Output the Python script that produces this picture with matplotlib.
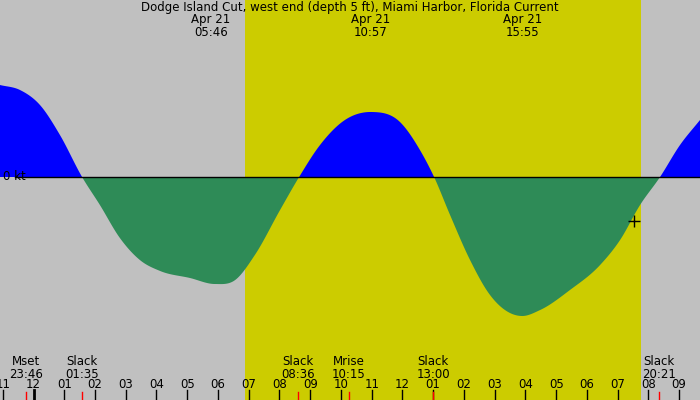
import numpy as np
import matplotlib
matplotlib.use("Agg")
import matplotlib.pyplot as plt

# hours since midnight Apr 21, current in kt
hours = [-1.09,-0.44,0.21,0.86,1.58,2.16,2.81,3.46,4.12,5.09,5.90,6.56,7.20,8.02,8.64,9.32,10.13,11.01,
         11.92,12.57,13.03,13.55,14.20,14.85,15.50,15.89,16.48,17.45,18.43,19.08,19.73,20.38,21.03,21.68]
speed = [0.92,0.87,0.72,0.42,0,-0.28,-0.61,-0.83,-0.94,-1.01,-1.07,-1.03,-0.78,-0.33,0,0.32,0.57,0.65,
         0.55,0.27,0,-0.38,-0.83,-1.18,-1.36,-1.39,-1.33,-1.13,-0.88,-0.63,-0.28,0,0.32,0.57]
day_start, day_end = 6.88, 19.76
top_labels = [("Apr 21\n05:46", 5.77), ("Apr 21\n10:57", 10.95), ("Apr 21\n15:55", 15.92)]
events = [("Mset\n23:46", -0.23), ("Slack\n01:35", 1.58), ("Slack\n08:36", 8.6),
          ("Mrise\n10:15", 10.25), ("Slack\n13:00", 13.0), ("Slack\n20:21", 20.35)]
hour_ticks = list(range(-1, 22))

def hermite(xs, ys, t):
    xs = np.asarray(xs); ys = np.asarray(ys)
    m = np.gradient(ys, xs)
    i = np.clip(np.searchsorted(xs, t) - 1, 0, len(xs) - 2)
    h = xs[i + 1] - xs[i]
    s = (t - xs[i]) / h
    h00 = 2*s**3 - 3*s**2 + 1; h10 = s**3 - 2*s**2 + s
    h01 = -2*s**3 + 3*s**2; h11 = s**3 - s**2
    return h00*ys[i] + h10*h*m[i] + h01*ys[i+1] + h11*h*m[i+1]

fig = plt.figure(figsize=(7, 4), dpi=100)
fig.patch.set_facecolor("#c0c0c0")
ax = fig.add_axes([0, 0, 1, 1])
ax.set_facecolor("#c0c0c0")
x0, x1 = -1.09, 21.68
ax.set_xlim(x0, x1); ax.set_ylim(-2.23, 1.77)
ax.axis("off")
ax.axvspan(day_start, day_end, color="#cccc00", lw=0)

t = np.linspace(x0, x1, 3000)
v = hermite(hours, speed, t)
ax.fill_between(t, 0, v, where=v >= 0, color="#0000ff", lw=0, interpolate=True)
ax.fill_between(t, 0, v, where=v <= 0, color="#2e8b57", lw=0, interpolate=True)
ax.plot([-0.6, x1], [0, 0], color="black", lw=1)

def ypx(p):
    return (177 - p) / 100.0

fs = 8.5
ax.text(-0.99, 0, "0 kt", fontsize=fs, ha="left", va="center")
ax.text(-1.09, ypx(19), "0", fontsize=fs, ha="right", va="center", clip_on=False)
ax.plot([19.53], [-0.44], marker="+", color="black", ms=8, mew=1)

fig.text(0.5, 0.998, "Dodge Island Cut, west end (depth 5 ft), Miami Harbor, Florida Current",
         ha="center", va="top", fontsize=fs)
for lab, h in top_labels:
    ax.text(h, ypx(13), lab, ha="center", va="top", fontsize=fs, linespacing=1.0)

for h in hour_ticks:
    lw = 2 if h == 0 else 1
    ax.plot([h, h], [ypx(390), ypx(400)], color="black", lw=lw, clip_on=False)
    lab = "%02d" % ((h - 1) % 12 + 1)
    ax.text(h, ypx(385), lab, ha="center", va="center", fontsize=fs)
for lab, h in events:
    ax.plot([h, h], [ypx(392), ypx(400)], color="red", lw=1)
    ax.text(h, ypx(355), lab, ha="center", va="top", fontsize=fs, linespacing=1.0)

fig.savefig("out.png", dpi=100, facecolor=fig.get_facecolor())
